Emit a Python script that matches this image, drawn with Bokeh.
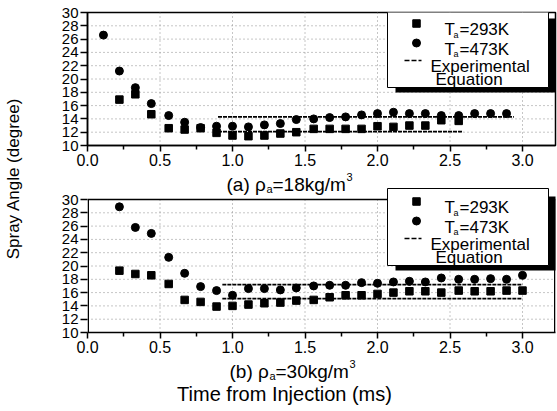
import math
from bokeh.plotting import figure
from bokeh.models import Range1d, FixedTicker, PrintfTickFormatter
from bokeh.layouts import row, column
from bokeh.embed import file_html
from bokeh.resources import INLINE
from bokeh.core.properties import value

FONT = "Liberation Sans"

# ---------------- data ----------------
# (a) rho_a = 18 kg/m3
a_t_473 = [0.11, 0.22, 0.33, 0.44, 0.56, 0.67, 0.78, 0.89, 1.00, 1.11, 1.22, 1.33, 1.44,
           1.56, 1.67, 1.78, 1.89, 2.00, 2.11, 2.22, 2.33, 2.44, 2.56, 2.67, 2.78, 2.89]
a_ang_473 = [26.6, 21.2, 18.7, 16.3, 14.5, 13.5, 12.7, 12.9, 12.9, 12.8, 13.1, 13.3, 13.9,
             14.0, 14.2, 14.3, 14.6, 14.8, 15.0, 14.8, 14.8, 14.5, 14.5, 14.8, 14.8, 14.8]
a_t_293 = [0.22, 0.33, 0.44, 0.56, 0.67, 0.78, 0.89, 1.00, 1.11, 1.22, 1.33, 1.44,
           1.56, 1.67, 1.78, 1.89, 2.00, 2.11, 2.22, 2.33, 2.44, 2.56]
a_ang_293 = [16.9, 17.7, 14.7, 12.6, 12.4, 12.6, 11.9, 11.5, 11.4, 11.5, 11.8, 12.0,
             12.5, 12.5, 12.5, 12.5, 12.9, 12.8, 13.0, 13.0, 13.8, 13.7]
a_eq_t_293 = [0.90, 2.59]
a_eq_293 = [12.1, 12.1]
a_eq_t_473 = [0.90, 2.94]
a_eq_473 = [14.3, 14.3]

# (b) rho_a = 30 kg/m3
b_t = [0.22, 0.33, 0.44, 0.56, 0.67, 0.78, 0.89, 1.00, 1.11, 1.22, 1.33, 1.44, 1.56,
       1.67, 1.78, 1.89, 2.00, 2.11, 2.22, 2.33, 2.44, 2.56, 2.67, 2.78, 2.89, 3.00]
b_ang_473 = [28.9, 25.8, 24.9, 21.3, 18.9, 16.9, 16.3, 15.6, 16.6, 16.6, 16.4, 16.7, 17.0,
             17.1, 17.1, 17.5, 17.4, 17.6, 17.7, 17.6, 18.2, 18.0, 18.0, 18.1, 18.0, 18.6]
b_ang_293 = [19.3, 18.8, 18.6, 17.3, 14.9, 14.6, 13.9, 14.0, 14.2, 14.4, 14.5, 14.8, 14.9,
             15.3, 15.6, 15.6, 15.8, 16.0, 16.2, 16.2, 16.0, 16.3, 16.2, 16.2, 16.3, 16.3]
b_eq_t_293 = [0.93, 3.00]
b_eq_293 = [15.1, 15.1]
b_eq_t_473 = [0.93, 3.00]
b_eq_473 = [17.2, 17.2]

x_ticks = [0.0, 0.5, 1.0, 1.5, 2.0, 2.5, 3.0]
x_minor = [0.25, 0.75, 1.25, 1.75, 2.25, 2.75]
y_ticks = [10, 12, 14, 16, 18, 20, 22, 24, 26, 28, 30]
grid_x = [0.5, 1.0, 1.5, 2.0, 2.5, 3.0]
grid_y = [12, 14, 16, 18, 20, 22, 24, 26, 28]

leg_labels = ["=293K", "=473K", "Experimental", "Equation"]
y_title = "Spray Angle (degree)"
x_title = "Time from Injection (ms)"
cap_a = ["(a) \u03c1", "a", "=18kg/m", "3"]
cap_b = ["(b) \u03c1", "a", "=30kg/m", "3"]

# ---------------- layout (page pixels) ----------------
W, H = 557, 411
LEFT_W = 24
MAIN_W = W - LEFT_W
SX = 145.0          # px per ms
SY = 6.65           # px per degree
X0_PX = 87          # page x of t = 0 (frame left of every plot in the column)
FRAME_RIGHT = 555
BL = X0_PX - LEFT_W  # left border (identical for all column plots, frames align)
BR = W - FRAME_RIGHT

TOP_H = 172         # top figure: page 0 .. 172
TOP_FT = 12         # frame top (y = 30)
BOT_TOP = TOP_H     # bottom figure starts here
BOT_H = 187         # bottom figure: 172 .. 359
BOT_FB = 332        # frame bottom (y = 10) of lower panel
CAP_TOP = BOT_TOP + BOT_H


def style_axes(p, hide_y_line):
    xa = p.xaxis[0]
    xa.ticker = FixedTicker(ticks=x_ticks, minor_ticks=x_minor)
    xa.formatter = PrintfTickFormatter(format="%.1f")
    xa.major_tick_out = 6
    xa.major_tick_in = 0
    xa.minor_tick_out = 4
    xa.minor_tick_in = 0
    xa.axis_line_width = 1.5
    xa.major_tick_line_width = 1.5
    xa.minor_tick_line_width = 1.5
    xa.major_label_text_font = FONT
    xa.major_label_text_font_size = "16px"
    xa.major_label_text_color = "black"
    xa.major_label_standoff = 2
    ya = p.yaxis[0]
    ya.ticker = FixedTicker(ticks=y_ticks, minor_ticks=[])
    ya.major_tick_out = 7
    ya.major_tick_in = 0
    ya.major_tick_line_width = 1.5
    ya.axis_line_width = 1.5
    ya.major_label_text_font = FONT
    ya.major_label_text_font_size = "15px"
    ya.major_label_text_color = "black"
    ya.major_label_standoff = 2
    if hide_y_line:
        ya.axis_line_color = None


def make_panel(fig_top, fig_h, frame_top, frame_bottom, outline):
    x0 = 0.0
    x_end = (FRAME_RIGHT - X0_PX) / SX
    y_end = 10.0 + (frame_bottom - frame_top) / SY
    p = figure(width=MAIN_W, height=fig_h, output_backend="svg", toolbar_location=None,
               x_range=Range1d(x0, x_end), y_range=Range1d(10.0, y_end),
               min_border_left=BL, min_border_right=BR,
               min_border_top=frame_top - fig_top,
               min_border_bottom=fig_top + fig_h - frame_bottom)
    p.background_fill_color = "white"
    p.border_fill_color = "white"
    p.xgrid.visible = False
    p.ygrid.visible = False
    p.outline_line_color = "black" if outline else None
    p.outline_line_width = 1.5
    style_axes(p, not outline)

    def px2x(px):
        return x0 + (px - X0_PX) / SX

    def py2y(py):
        return y_end - (py - frame_top) / SY

    # dotted grid
    p.segment(x0=grid_x, y0=[10] * len(grid_x), x1=grid_x, y1=[30] * len(grid_x),
              line_color="#8c8c8c", line_width=1, line_dash="1 3")
    p.segment(x0=[0] * len(grid_y), y0=grid_y, x1=[x_end] * len(grid_y), y1=grid_y,
              line_color="#8c8c8c", line_width=1, line_dash="1 3")
    if not outline:
        xl = px2x(X0_PX + 0.75)
        xr = px2x(FRAME_RIGHT - 0.75)
        p.segment(x0=[xl, 0, xr], y0=[10, 30, 10], x1=[xl, x_end, xr], y1=[30, 30, 30],
                  line_color="black", line_width=1.5)
    return p, px2x, py2y


def txt(p, x, y, s, size, baseline="alphabetic", align="left", angle=0.0):
    p.text([x], [y], text=[s], text_font=value(FONT), text_font_size=size,
           text_baseline=baseline, text_align=align, text_color="black", angle=angle)


def add_legend(p, px2x, py2y, ft):
    p.quad(left=[px2x(395)], right=[px2x(560)], top=[py2y(ft + 6)], bottom=[py2y(ft + 80)],
           fill_color="black", line_color=None)
    p.quad(left=[px2x(387)], right=[px2x(548)], top=[py2y(ft - 2)], bottom=[py2y(ft + 75)],
           fill_color="white", line_color="black", line_width=1)
    p.scatter([px2x(416)], [py2y(ft + 11)], marker="square", size=7.5, color="black")
    p.scatter([px2x(416)], [py2y(ft + 30.5)], marker="circle", size=8, color="black")
    p.segment(x0=[px2x(404)], y0=[py2y(ft + 48)], x1=[px2x(421)], y1=[py2y(ft + 48)],
              line_color="black", line_width=1.5, line_dash="5 2")
    for yy, lab in [(ft + 17, leg_labels[0]), (ft + 36.5, leg_labels[1])]:
        txt(p, px2x(444), py2y(yy), "T", "17px")
        txt(p, px2x(453), py2y(yy + 5), "a", "9px")
        txt(p, px2x(459), py2y(yy), lab, "17px")
    txt(p, px2x(430), py2y(ft + 53.5), leg_labels[2], "17px")
    txt(p, px2x(435), py2y(ft + 66.5), leg_labels[3], "17px")


def add_caption(p, px2x, py2y, x0, base, parts):
    txt(p, px2x(x0), py2y(base), parts[0], "19px")
    txt(p, px2x(x0 + 40), py2y(base + 4), parts[1], "11px")
    txt(p, px2x(x0 + 46), py2y(base), parts[2], "19px")
    txt(p, px2x(x0 + 120), py2y(base - 8), parts[3], "11px")


def draw_series(p, t473, v473, t293, v293, et293, e293, et473, e473):
    p.line(et293, e293, line_color="black", line_width=1.8, line_dash="4 1")
    p.line(et473, e473, line_color="black", line_width=1.8, line_dash="4 1")
    p.scatter(t293, v293, marker="square", size=7.5, color="black")
    p.scatter(t473, v473, marker="circle", size=8, color="black")


def blank_fig(w, h, xr, yr, bl=0, br=0):
    f = figure(width=w, height=h, output_backend="svg", toolbar_location=None,
               x_range=xr, y_range=yr, x_axis_type=None, y_axis_type=None,
               min_border=0, min_border_left=bl, min_border_right=br,
               min_border_top=0, min_border_bottom=0)
    f.grid.visible = False
    f.outline_line_color = None
    f.background_fill_color = "white"
    f.border_fill_color = "white"
    return f


# ---- top panel (a) ----
pa, ax, ay = make_panel(0, TOP_H, TOP_FT, TOP_FT + 133, True)
draw_series(pa, a_t_473, a_ang_473, a_t_293, a_ang_293, a_eq_t_293, a_eq_293, a_eq_t_473, a_eq_473)
add_legend(pa, ax, ay, TOP_FT)

# ---- bottom panel (b); its frame also holds caption (a) and the legend top ----
pb, bx, by = make_panel(BOT_TOP, BOT_H, BOT_TOP, BOT_FB, False)
draw_series(pb, b_t, b_ang_473, b_t, b_ang_293, b_eq_t_293, b_eq_293, b_eq_t_473, b_eq_473)
add_legend(pb, bx, by, 190)
add_caption(pb, bx, by, 226, 184, cap_a)

# ---- caption strip below panel (b): frame aligned with the panels above ----
pc = blank_fig(MAIN_W, H - CAP_TOP, Range1d(X0_PX, FRAME_RIGHT), Range1d(H, CAP_TOP), BL, BR)
add_caption(pc, lambda v: v, lambda v: v, 229, 371, cap_b)
txt(pc, 284, 393, x_title, "20px", baseline="middle", align="center")

# ---- left title strip ----
pl = blank_fig(LEFT_W, H, Range1d(0, LEFT_W), Range1d(H, 0))
txt(pl, 13, 178, y_title, "17px", baseline="middle", align="center", angle=math.pi / 2)

layout = row(pl, column(pa, pb, pc, spacing=0), spacing=0)
open("out.html", "w").write(file_html(layout, INLINE))
